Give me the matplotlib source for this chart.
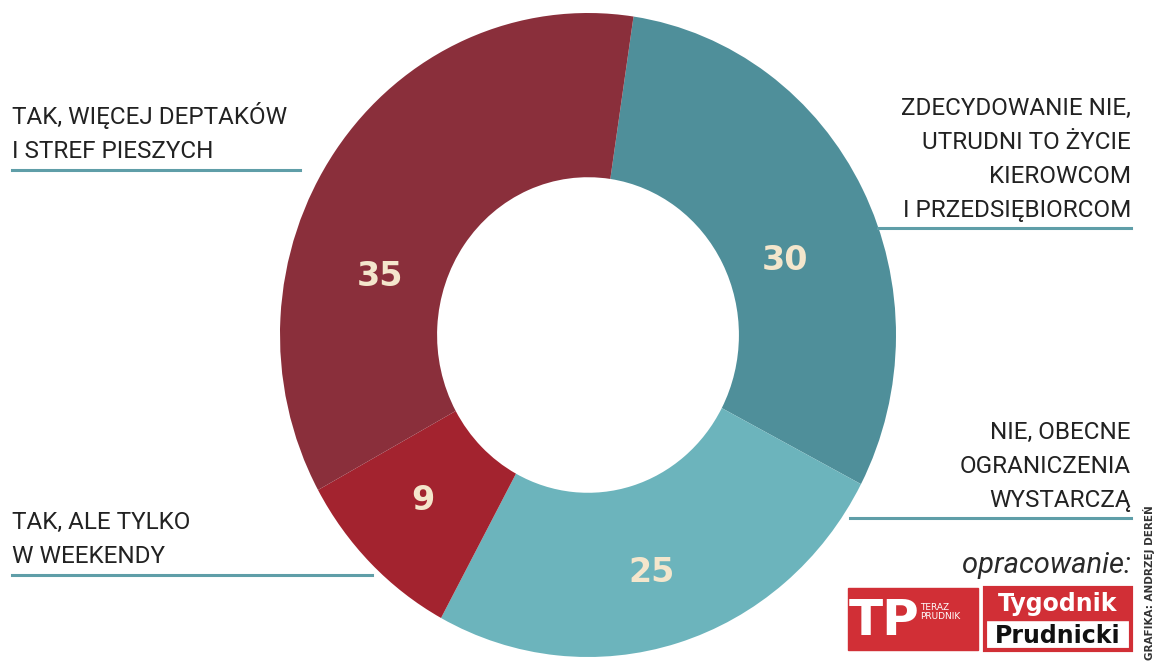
import numpy as np
import matplotlib
matplotlib.use("Agg")
import matplotlib.pyplot as plt
from matplotlib.patches import Rectangle

# data
answers = ["ZDECYDOWANIE NIE,\nUTRUDNI TO ŻYCIE\nKIEROWCOM\nI PRZEDSIĘBIORCOM",
           "NIE, OBECNE\nOGRANICZENIA\nWYSTARCZĄ",
           "TAK, ALE TYLKO\nW WEEKENDY",
           "TAK, WIĘCEJ DEPTAKÓW\nI STREF PIESZYCH"]
values = [30, 25, 9, 35]
colors = ["#4f8f9a", "#6cb4bc", "#a3232f", "#8a2f3b"]

W, H = 1156, 662
fig = plt.figure(figsize=(W / 100, H / 100), dpi=100)
fig.patch.set_facecolor("white")

# donut (slightly taller than wide, as in the print)
ax = fig.add_axes([280 / W, (H - 657) / H, 616 / W, 644 / H])
ax.pie(values, colors=colors, startangle=81.5, counterclock=False,
       wedgeprops=dict(width=0.51, edgecolor="none"))
ax.set_xlim(-1, 1)
ax.set_ylim(-1, 1)
ax.set_aspect("auto")
ax.axis("off")

# overlay in pixel coords for texts / rules / logos
ov = fig.add_axes([0, 0, 1, 1])
ov.set_xlim(0, W)
ov.set_ylim(H, 0)
ov.axis("off")
ov.patch.set_alpha(0)

num_pos = [(785, 260), (652, 573), (423, 501), (380, 276)]
for (x, y), v in zip(num_pos, values):
    ov.text(x, y, str(v), ha="center", va="center", color="#f4e6cc",
            fontsize=24, fontweight="bold", family="DejaVu Sans")

lab_font = dict(family="Roboto", fontsize=17.5, color="#222222", linespacing=1.62)
line_col = "#5f9ea8"

# right side labels
ov.text(1131, 222, answers[0], ha="right", va="bottom", **lab_font)
ov.plot([878, 1131], [228, 228], color=line_col, lw=2.2)
ov.text(1131, 512, answers[1], ha="right", va="bottom", **lab_font)
ov.plot([850, 1131], [518, 518], color=line_col, lw=2.2)

# left side labels
ov.text(12, 163, answers[3], ha="left", va="bottom", **lab_font)
ov.plot([12, 300], [170, 170], color=line_col, lw=2.2)
ov.text(12, 568, answers[2], ha="left", va="bottom", **lab_font)
ov.plot([12, 372], [575, 575], color=line_col, lw=2.2)

ov.text(1131, 565, "opracowanie:", ha="right", va="center", family="Roboto",
        style="italic", fontsize=21, color="#2a2a2a")

# logos
red = "#d12f36"
ov.add_patch(Rectangle((848, 588), 130, 62, color=red))
ov.text(884, 621, "TP", ha="center", va="center", color="white",
        fontsize=36, fontweight="bold", family="DejaVu Sans")
ov.text(920, 612, "TERAZ\nPRUDNIK", ha="left", va="center", color="white",
        fontsize=6.5, family="DejaVu Sans", linespacing=1.0)
ov.add_patch(Rectangle((985, 588), 146, 62, facecolor="white", edgecolor=red, lw=3))
ov.add_patch(Rectangle((985, 588), 146, 32, color=red))
ov.text(1058, 604, "Tygodnik", ha="center", va="center", color="white",
        fontsize=17, fontweight="bold", family="DejaVu Sans")
ov.text(1058, 636, "Prudnicki", ha="center", va="center", color="#111111",
        fontsize=17, fontweight="bold", family="DejaVu Sans")

ov.text(1149, 660, "GRAFIKA: ANDRZEJ DEREŃ", rotation=90, ha="center", va="bottom",
        fontsize=7.5, fontweight="bold", color="#333333", family="DejaVu Sans")

fig.savefig("out.png", dpi=100)
